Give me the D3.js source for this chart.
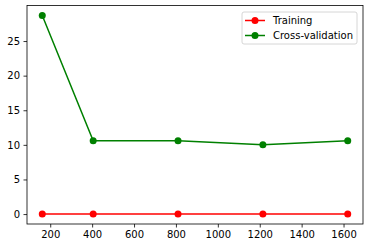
<!DOCTYPE html>
<html>
<head>
<meta charset="utf-8">
<script src="https://cdn.jsdelivr.net/npm/d3@7"></script>
<style>
  body { margin: 0; background: #fff; }
  text { font-family: "DejaVu Sans", sans-serif; }
</style>
</head>
<body>
<div id="chart"></div>
<script>
// learning curve data
const trainSizes = [162, 405, 810, 1215, 1620];
const trainScores = [0, 0, 0, 0, 0];
const cvScores = [28.7, 10.6, 10.6, 10.0, 10.6];
const xTicks = [200, 400, 600, 800, 1000, 1200, 1400, 1600];
const yTicks = [0, 5, 10, 15, 20, 25];
const seriesNames = ["Training", "Cross-validation"];
const seriesColors = ["#ff0000", "#008000"];

const width = 368;
const height = 248;
const margin = { top: 5.5, right: 5, bottom: 24, left: 27 };

const svg = d3.select("#chart")
    .append("svg")
    .attr("width", width)
    .attr("height", height);

// matplotlib-style 5% padding
const xPad = (1620 - 162) * 0.05;
const yPad = (28.7 - 0) * 0.05;

const x = d3.scaleLinear()
    .domain([162 - xPad, 1620 + xPad])
    .range([margin.left, width - margin.right]);

const y = d3.scaleLinear()
    .domain([0 - yPad, 28.7 + yPad])
    .range([height - margin.bottom, margin.top]);

// axes
const xAxis = svg.append("g")
    .attr("transform", `translate(0,${height - margin.bottom})`)
    .call(d3.axisBottom(x).tickValues(xTicks).tickSize(3.5).tickPadding(3.5).tickFormat(d3.format("d")));

const yAxis = svg.append("g")
    .attr("transform", `translate(${margin.left},0)`)
    .call(d3.axisLeft(y).tickValues(yTicks).tickSize(3.5).tickPadding(3.5).tickFormat(d3.format("d")));

[xAxis, yAxis].forEach(g => {
    g.select(".domain").remove();
    g.selectAll("line").attr("stroke", "#000").attr("stroke-width", 0.8);
    g.selectAll("text").attr("font-size", 10).attr("fill", "#000")
        .style("font-family", "'DejaVu Sans', sans-serif");
});

// frame
svg.append("rect")
    .attr("x", margin.left)
    .attr("y", margin.top)
    .attr("width", width - margin.right - margin.left)
    .attr("height", height - margin.bottom - margin.top)
    .attr("fill", "none")
    .attr("stroke", "#000")
    .attr("stroke-width", 0.8);

const line = d3.line()
    .x((d, i) => x(trainSizes[i]))
    .y(d => y(d));

const series = [trainScores, cvScores];

series.forEach((vals, k) => {
    svg.append("path")
        .datum(vals)
        .attr("d", line)
        .attr("fill", "none")
        .attr("stroke", seriesColors[k])
        .attr("stroke-width", 1.5);

    svg.selectAll(".pt" + k)
        .data(vals)
        .enter()
        .append("circle")
        .attr("class", "pt" + k)
        .attr("cx", (d, i) => x(trainSizes[i]))
        .attr("cy", d => y(d))
        .attr("r", 3.5)
        .attr("fill", seriesColors[k]);
});

// legend
const legend = svg.append("g").attr("transform", "translate(242,12)");

legend.append("rect")
    .attr("width", 115)
    .attr("height", 32)
    .attr("rx", 2)
    .attr("fill", "#fff")
    .attr("fill-opacity", 0.8)
    .attr("stroke", "#ccc")
    .attr("stroke-width", 0.8);

seriesNames.forEach((name, k) => {
    const row = legend.append("g").attr("transform", `translate(0,${8.5 + k * 15})`);
    row.append("line")
        .attr("x1", 3).attr("x2", 23)
        .attr("stroke", seriesColors[k])
        .attr("stroke-width", 1.5);
    row.append("circle")
        .attr("cx", 13).attr("r", 3.5)
        .attr("fill", seriesColors[k]);
    row.append("text")
        .attr("x", 31)
        .attr("y", 3.5)
        .attr("font-size", 10)
        .attr("fill", "#000")
        .text(name);
});
</script>
</body>
</html>
